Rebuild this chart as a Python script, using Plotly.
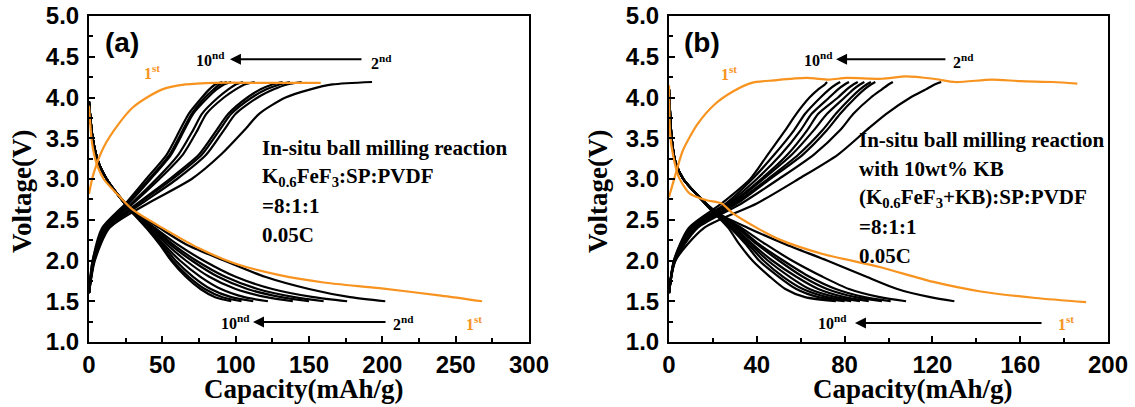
import plotly.graph_objects as go

# ---------------- data ----------------
CYCLES = ["2nd", "3rd", "4th", "5th", "6th", "7th", "8th", "9th", "10th"]

# voltage levels at which capacities were read
CHG_V = [1.6, 2.0, 2.4, 2.7, 3.0, 3.3, 3.6, 3.8, 4.0, 4.1, 4.16, 4.19]
DIS_V_A = [3.95, 3.5, 3.2, 3.0, 2.8, 2.6, 2.4, 2.2, 2.0, 1.8, 1.65, 1.55, 1.5]
DIS_V_B = [4.1, 3.5, 3.2, 3.0, 2.8, 2.6, 2.4, 2.2, 2.0, 1.8, 1.65, 1.55, 1.5]

# panel (a): capacities (mAh/g) for cycles 2..10
A_CHG_CAP = [
    [0, 4.0, 14, 40, 70, 90, 106, 116, 134, 151, 166, 193],
    [0, 3.5, 13, 36, 60, 80, 92, 100, 115, 126, 135, 145],
    [0, 3.5, 12, 34, 57, 77, 89, 97, 111, 121, 130, 137],
    [0, 3.5, 12, 33, 55, 75, 87, 95, 108, 117, 125, 132],
    [0, 3.0, 11, 30, 48, 64, 74, 80, 92, 100, 106, 113],
    [0, 3.0, 11, 29, 46, 61, 71, 77, 88, 95, 100, 105],
    [0, 3.0, 10, 27, 42, 56, 65, 71, 81, 87, 92, 97],
    [0, 2.5, 10, 26, 41, 55, 64, 70, 79, 85, 89, 94],
    [0, 2.5, 9, 25, 39, 53, 62, 68, 77, 82, 86, 91],
]
A_DIS_CAP = [
    [0, 2.5, 6.5, 12, 20, 31, 48, 66, 92, 120, 150, 178, 202],
    [0, 2.5, 6.5, 12, 20, 30, 45, 60, 78, 100, 125, 153, 176],
    [0, 2.5, 6.5, 12, 20, 30, 44, 57, 73, 93, 115, 140, 160],
    [0, 2.5, 6.5, 12, 20, 30, 43, 55, 70, 88, 108, 131, 150],
    [0, 2.5, 6.5, 12, 20, 29, 42, 53, 66, 82, 100, 121, 139],
    [0, 2.5, 6.5, 12, 20, 29, 41, 51, 62, 76, 90, 106, 122],
    [0, 2.5, 6.5, 12, 20, 29, 40, 50, 59, 71, 83, 97, 112],
    [0, 2.5, 6.5, 12, 20, 29, 40, 49, 57, 68, 79, 91, 104],
    [0, 2.5, 6.5, 12, 20, 29, 39, 48, 56, 66, 76, 86, 97],
]
A_FIRST_CHG_Q = [0, 3, 10, 20, 30, 39.5, 50, 66, 86, 120, 158]
A_FIRST_CHG_V = [2.82, 3.06, 3.39, 3.67, 3.88, 4.0, 4.1, 4.16, 4.18, 4.18, 4.18]
A_FIRST_DIS_Q = [0, 2, 5, 10, 20, 30, 50, 75, 100, 130, 160, 198, 240, 268]
A_FIRST_DIS_V = [3.9, 3.45, 3.2, 3.0, 2.8, 2.62, 2.4, 2.15, 1.96, 1.82, 1.73, 1.66, 1.57, 1.5]

# panel (b)
B_CHG_CAP = [
    [0, 3.0, 16, 40, 59, 77, 90, 99, 110, 117, 121, 124],
    [0, 2.8, 13, 33, 50, 66, 78, 84, 92, 97, 100, 102],
    [0, 2.6, 12, 31, 46, 61, 72, 78, 85, 89, 92, 94],
    [0, 2.6, 11.5, 30, 45, 59, 70, 76, 83, 87, 90, 92],
    [0, 2.5, 11, 29, 43, 56, 66, 72, 80, 84, 87, 89],
    [0, 2.4, 10.5, 28, 42, 54, 63, 68, 77, 81, 84, 86],
    [0, 2.4, 10, 27, 40, 51, 60, 65, 73, 77, 80, 82],
    [0, 2.3, 9.5, 26, 38, 48, 57, 62, 69, 73, 76, 78],
    [0, 2.2, 9, 24, 37, 45, 53, 58, 64, 68, 71, 72],
]
B_DIS_CAP = [
    [0, 1.2, 3, 6.5, 13, 21, 36, 53, 72, 90, 104, 119, 130],
    [0, 1.2, 3, 6.5, 13, 21, 33, 44, 56, 70, 82, 96, 108],
    [0, 1.2, 3, 6.5, 13, 21, 32, 41, 52, 64, 76, 89, 101],
    [0, 1.2, 3, 6.5, 13, 21, 31, 40, 50, 61, 72, 85, 97],
    [0, 1.2, 3, 6.5, 13, 21, 30, 38, 47, 58, 68, 80, 91],
    [0, 1.2, 3, 6.5, 13, 20, 29, 37, 45, 55, 64, 76, 87],
    [0, 1.2, 3, 6.5, 13, 20, 29, 36, 43, 52, 61, 72, 83],
    [0, 1.2, 3, 6.5, 13, 20, 28, 35, 41, 50, 58, 68, 80],
    [0, 1.2, 3, 6.5, 13, 20, 27, 32, 38, 46, 53, 62, 76],
]
B_FIRST_CHG_Q = [0, 3, 6.3, 12.9, 21, 29.5, 37.7, 47.7, 62.6, 73, 80.8, 97, 108, 120.5, 130.5, 147, 160, 175, 186]
B_FIRST_CHG_V = [2.78, 3.06, 3.35, 3.67, 3.92, 4.08, 4.18, 4.21, 4.24, 4.22, 4.24, 4.23, 4.26, 4.23, 4.19, 4.22, 4.2, 4.19, 4.17]
B_FIRST_DIS_Q = [0, 0.5, 2, 4.5, 9.5, 17, 24, 29, 40, 51, 70, 96, 120, 142, 167, 190]
B_FIRST_DIS_V = [4.15, 3.55, 3.27, 3.02, 2.82, 2.74, 2.7, 2.58, 2.4, 2.25, 2.08, 1.92, 1.74, 1.62, 1.54, 1.49]

A_XTICKS = [0, 50, 100, 150, 200, 250, 300]
B_XTICKS = [0, 40, 80, 120, 160, 200]
Y_TICKS = [1.0, 1.5, 2.0, 2.5, 3.0, 3.5, 4.0, 4.5, 5.0]

ORANGE = "#F7931E"
BLACK = "#000000"
SERIF = "Liberation Serif, Times New Roman, serif"
SANS = "Liberation Sans, Arial, sans-serif"

fig = go.Figure()


def add_curve(xs, ys, color, xa, ya, name):
    fig.add_trace(go.Scatter(
        x=xs, y=ys, mode="lines", name=name, showlegend=False,
        line=dict(color=color, width=2.2, shape="spline", smoothing=0.7),
        xaxis=xa, yaxis=ya, hoverinfo="skip"))


for cyc, q in zip(CYCLES, A_CHG_CAP):
    add_curve(q, CHG_V, BLACK, "x", "y", "(a) charge " + cyc)
for cyc, q in zip(CYCLES, A_DIS_CAP):
    add_curve(q, DIS_V_A, BLACK, "x", "y", "(a) discharge " + cyc)
add_curve(A_FIRST_CHG_Q, A_FIRST_CHG_V, ORANGE, "x", "y", "(a) charge 1st")
add_curve(A_FIRST_DIS_Q, A_FIRST_DIS_V, ORANGE, "x", "y", "(a) discharge 1st")

for cyc, q in zip(CYCLES, B_CHG_CAP):
    add_curve(q, CHG_V, BLACK, "x2", "y2", "(b) charge " + cyc)
for cyc, q in zip(CYCLES, B_DIS_CAP):
    add_curve(q, DIS_V_B, BLACK, "x2", "y2", "(b) discharge " + cyc)
add_curve(B_FIRST_CHG_Q, B_FIRST_CHG_V, ORANGE, "x2", "y2", "(b) charge 1st")
add_curve(B_FIRST_DIS_Q, B_FIRST_DIS_V, ORANGE, "x2", "y2", "(b) discharge 1st")

tickfont = dict(family=SANS, size=24, color="black", weight="bold")


def xaxis(domain, rng, ticks, minor, anchor):
    return dict(domain=domain, range=rng, tickvals=ticks, anchor=anchor,
                ticks="inside", ticklen=6, tickwidth=2, tickcolor="black",
                showline=True, linewidth=2, linecolor="black", mirror=True,
                showgrid=False, zeroline=False, tickfont=tickfont,
                ticklabelstandoff=0, automargin=False,
                minor=dict(dtick=minor, ticks="inside", ticklen=4, tickwidth=1.5,
                           tickcolor="black", showgrid=False))


def yaxis(anchor):
    return dict(domain=[0, 1], range=[1, 5], tickvals=Y_TICKS, tickformat=".1f",
                anchor=anchor, ticks="inside", ticklen=6, tickwidth=2,
                tickcolor="black", showline=True, linewidth=2, linecolor="black",
                mirror=True, showgrid=False, zeroline=False, tickfont=tickfont,
                ticklabelstandoff=3, automargin=False,
                minor=dict(dtick=0.25, ticks="inside", ticklen=4, tickwidth=1.5,
                           tickcolor="black", showgrid=False))


fig.update_layout(
    width=1135, height=407, autosize=False,
    margin=dict(l=89, r=27, t=16, b=65, pad=0),
    paper_bgcolor="white", plot_bgcolor="white",
    xaxis=xaxis([0, 0.4318], [0, 300], A_XTICKS, 25, "y"),
    yaxis=yaxis("x"),
    xaxis2=xaxis([0.5692, 1], [0, 200], B_XTICKS, 20, "y2"),
    yaxis2=yaxis("x2"),
)

ann = []
lab_font = dict(family=SERIF, size=16, color="black", weight="bold")
or_font = dict(family=SERIF, size=16, color=ORANGE, weight="bold")
blk_font = dict(family=SERIF, size=21, color="black", weight="bold")
panel_font = dict(family=SANS, size=28, color="black", weight="bold")


def text(x, y, s, font, xa="x", ya="y", xanchor="center"):
    ann.append(dict(x=x, y=y, xref=xa, yref=ya, text=s, showarrow=False,
                    font=font, xanchor=xanchor, yanchor="middle"))


def arrow(xh, xt, y, xa="x", ya="y"):
    ann.append(dict(x=xh, y=y, ax=xt, ay=y, xref=xa, yref=ya, axref=xa, ayref=ya,
                    text="", showarrow=True, arrowhead=2, arrowsize=1.1,
                    arrowwidth=2, arrowcolor="black"))


# panel (a)
text(22.5, 4.67, "(a)", panel_font)
text(43, 4.31, "1<sup>st</sup>", or_font)
text(94.1, 4.47, "10<sup>nd</sup>", lab_font, xanchor="right")
arrow(96.1, 186.8, 4.47)
text(190.9, 4.44, "2<sup>nd</sup>", lab_font, xanchor="left")
text(111.1, 1.25, "10<sup>nd</sup>", lab_font, xanchor="right")
arrow(111.8, 203.2, 1.245)
text(205.9, 1.23, "2<sup>nd</sup>", lab_font, xanchor="left")
text(255.7, 1.23, "1<sup>st</sup>", or_font, xanchor="left")
for yv, s in zip([3.38, 3.025, 2.669, 2.313],
                 ["In-situ ball milling reaction",
                  "K<sub>0.6</sub>FeF<sub>3</sub>:SP:PVDF", "=8:1:1", "0.05C"]):
    text(116.6, yv, s, blk_font, xanchor="left")

# panel (b)
text(15, 4.68, "(b)", panel_font, "x2", "y2")
text(27.3, 4.30, "1<sup>st</sup>", or_font, "x2", "y2")
text(75.6, 4.47, "10<sup>nd</sup>", lab_font, "x2", "y2", xanchor="right")
arrow(76.1, 126.6, 4.47, "x2", "y2")
text(128.5, 4.45, "2<sup>nd</sup>", lab_font, "x2", "y2", xanchor="left")
text(82.0, 1.24, "10<sup>nd</sup>", lab_font, "x2", "y2", xanchor="right")
arrow(84.7, 170.4, 1.233, "x2", "y2")
text(176.3, 1.23, "1<sup>st</sup>", or_font, "x2", "y2", xanchor="left")
for yv, s in zip([3.479, 3.123, 2.767, 2.411, 2.055],
                 ["In-situ ball milling reaction", "with 10wt% KB",
                  "(K<sub>0.6</sub>FeF<sub>3</sub>+KB):SP:PVDF", "=8:1:1", "0.05C"]):
    text(85.7, yv, s, blk_font, "x2", "y2", xanchor="left")

# axis titles
title_font = dict(family=SERIF, size=27, color="black", weight="bold")
for xp in [(303 - 89) / 1019, (912 - 89) / 1019]:
    ann.append(dict(x=xp, y=(342 - 389) / 326, xref="paper", yref="paper",
                    text="Capacity(mAh/g)", showarrow=False, font=title_font,
                    xanchor="center", yanchor="middle"))
for xp in [(22 - 89) / 1019, (598 - 89) / 1019]:
    ann.append(dict(x=xp, y=(342 - 192) / 326, xref="paper", yref="paper",
                    text="Voltage(V)", showarrow=False, font=title_font,
                    textangle=-90, xanchor="center", yanchor="middle"))

fig.update_layout(annotations=ann)
fig.write_html("out.html", config={"displayModeBar": False},
               post_script="document.body.style.margin='0';document.body.style.overflow='hidden';")
